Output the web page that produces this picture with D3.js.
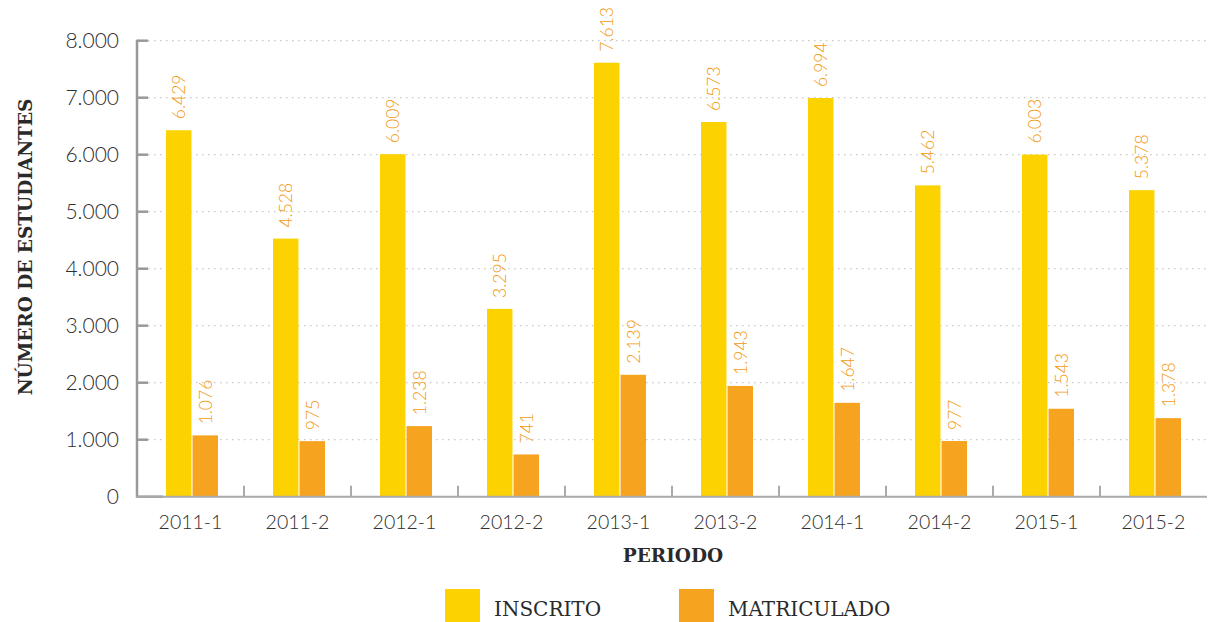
<!DOCTYPE html>
<html>
<head>
<meta charset="utf-8">
<script src="https://cdn.jsdelivr.net/npm/d3@7"></script>
<style>
  body { margin: 0; background: #fff; }
  .tick-lbl { font-family: Lato, sans-serif; font-weight: 300; fill: #2e2e2e; }
  .title { font-family: "DejaVu Serif", serif; fill: #2a2a2a; }
</style>
</head>
<body>
<svg width="1208" height="622"></svg>
<script>
const periods = ['2011-1', '2011-2', '2012-1', '2012-2', '2013-1', '2013-2', '2014-1', '2014-2', '2015-1', '2015-2'];
const series = ['INSCRITO', 'MATRICULADO'];
const inscrito = [6429, 4528, 6009, 3295, 7613, 6573, 6994, 5462, 6003, 5378];
const matriculado = [1076, 975, 1238, 741, 2139, 1943, 1647, 977, 1543, 1378];
const yTicks = [0, 1000, 2000, 3000, 4000, 5000, 6000, 7000, 8000];
const colors = ['#FCD200', '#F6A420'];

const svg = d3.select('svg');
const fmt = d3.formatLocale({decimal: ',', thousands: '.', grouping: [3], currency: ['', '']}).format(',d');

const plotLeft = 137, plotRight = 1207, plotTop = 40.7, plotBottom = 496.7;

const x = d3.scaleBand().domain(periods).range([plotLeft, plotRight]);
const xSub = d3.scaleBand().domain(series).range([29, 81]).paddingInner(0.04);
const y = d3.scaleLinear().domain([0, 8000]).range([plotBottom, plotTop]);

// dotted gridlines
svg.append('g').selectAll('line')
  .data(yTicks.slice(1))
  .enter().append('line')
    .attr('x1', plotLeft + 11).attr('x2', plotRight)
    .attr('y1', d => y(d)).attr('y2', d => y(d))
    .attr('stroke', '#c8c8c8')
    .attr('stroke-width', 1.3)
    .attr('stroke-dasharray', '1.5,4.5');

// bars
const rows = periods.map((p, i) => ({p: p, vals: [inscrito[i], matriculado[i]]}));
const grp = svg.append('g').selectAll('g')
  .data(rows)
  .enter().append('g')
    .attr('transform', d => `translate(${x(d.p)},0)`);

grp.selectAll('rect')
  .data(d => d.vals.map((v, j) => ({s: series[j], v: v, j: j})))
  .enter().append('rect')
    .attr('x', d => xSub(d.s))
    .attr('width', xSub.bandwidth())
    .attr('y', d => y(d.v))
    .attr('height', d => y(0) - y(d.v))
    .attr('fill', d => colors[d.j]);

// value labels (rotated)
grp.selectAll('text')
  .data(d => d.vals.map((v, j) => ({s: series[j], v: v})))
  .enter().append('text')
    .attr('transform', d => `translate(${xSub(d.s) + xSub.bandwidth() / 2 + 6.5},${y(d.v) - 11}) rotate(-90)`)
    .attr('font-family', 'Lato, sans-serif')
    .attr('font-weight', 300)
    .attr('font-size', 17.5)
    .attr('fill', '#F39A10')
    .text(d => fmt(d.v));

// y axis
const yAxis = svg.append('g');
yAxis.append('line')
  .attr('x1', plotLeft).attr('x2', plotLeft)
  .attr('y1', plotTop - 1).attr('y2', plotBottom + 1)
  .attr('stroke', '#999').attr('stroke-width', 2.5);
yAxis.selectAll('line.t')
  .data(yTicks)
  .enter().append('line')
    .attr('class', 't')
    .attr('x1', plotLeft).attr('x2', d => d === 0 ? plotLeft + 26 : plotLeft + 11)
    .attr('y1', d => y(d)).attr('y2', d => y(d))
    .attr('stroke', '#999').attr('stroke-width', 2.5);
yAxis.selectAll('text')
  .data(yTicks)
  .enter().append('text')
    .attr('class', 'tick-lbl')
    .attr('x', 119)
    .attr('y', d => y(d) + 7.5)
    .attr('text-anchor', 'end')
    .attr('font-size', 21)
    .text(d => fmt(d));

// x axis
const xAxis = svg.append('g');
xAxis.append('line')
  .attr('x1', plotLeft).attr('x2', plotRight)
  .attr('y1', plotBottom).attr('y2', plotBottom)
  .attr('stroke', '#aaa').attr('stroke-width', 2);
xAxis.selectAll('line.t')
  .data(periods.slice(1))
  .enter().append('line')
    .attr('class', 't')
    .attr('x1', d => x(d)).attr('x2', d => x(d))
    .attr('y1', plotBottom - 11).attr('y2', plotBottom)
    .attr('stroke', '#aaa').attr('stroke-width', 2);
xAxis.selectAll('text')
  .data(periods)
  .enter().append('text')
    .attr('class', 'tick-lbl')
    .attr('x', d => x(d) + x.bandwidth() / 2)
    .attr('y', 529)
    .attr('text-anchor', 'middle')
    .attr('font-size', 19.5)
    .text(d => d);

// axis titles
svg.append('text')
  .attr('class', 'title')
  .attr('x', 673).attr('y', 562)
  .attr('text-anchor', 'middle')
  .attr('font-size', 18.5)
  .attr('font-weight', 'bold')
  .text('PERIODO');

svg.append('text')
  .attr('class', 'title')
  .attr('transform', 'translate(32,247) rotate(-90)')
  .attr('text-anchor', 'middle')
  .attr('font-size', 18.5)
  .attr('font-weight', 'bold')
  .text('NÚMERO DE ESTUDIANTES');

// legend
const legendX = [445, 679];
const leg = svg.append('g').selectAll('g')
  .data(series)
  .enter().append('g')
    .attr('transform', (d, i) => `translate(${legendX[i]},589)`);
leg.append('rect')
  .attr('width', 35).attr('height', 33)
  .attr('fill', (d, i) => colors[i]);
leg.append('text')
  .attr('class', 'title')
  .attr('x', 49).attr('y', 27)
  .attr('font-size', 20)
  .attr('fill', '#555')
  .text(d => d);
</script>
</body>
</html>
